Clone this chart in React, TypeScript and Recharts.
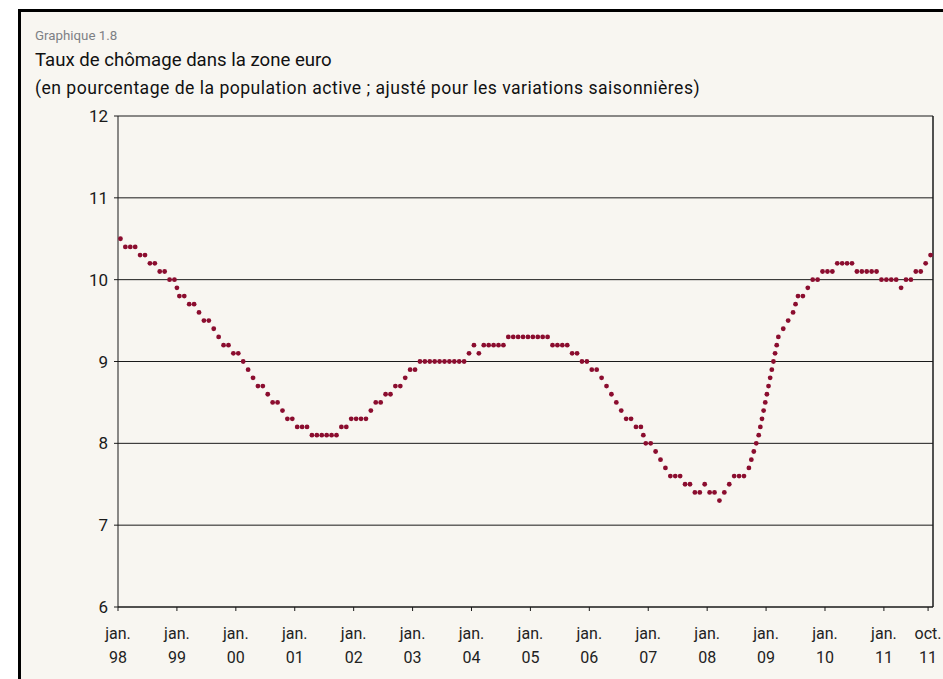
import { LineChart, Line, XAxis, YAxis, CartesianGrid, ReferenceLine } from "recharts";

// monthly unemployment rate, euro area (% of labour force, s.a.)
const rate1998 = [10.5, 10.4, 10.4, 10.4, 10.3, 10.3, 10.2, 10.2, 10.1, 10.1, 10.0, 10.0];
const rate1999 = [9.8, 9.8, 9.7, 9.7, 9.6, 9.5, 9.5, 9.4, 9.3, 9.2, 9.2, 9.1];
const rate2000 = [9.1, 9.0, 8.9, 8.8, 8.7, 8.7, 8.6, 8.5, 8.5, 8.4, 8.3, 8.3];
const rate2001 = [8.2, 8.2, 8.2, 8.1, 8.1, 8.1, 8.1, 8.1, 8.1, 8.2, 8.2, 8.3];
const rate2002 = [8.3, 8.3, 8.3, 8.4, 8.5, 8.5, 8.6, 8.6, 8.7, 8.7, 8.8, 8.9];
const rate2003 = [8.9, 9.0, 9.0, 9.0, 9.0, 9.0, 9.0, 9.0, 9.0, 9.0, 9.0, 9.1];
const rate2004 = [9.2, 9.1, 9.2, 9.2, 9.2, 9.2, 9.2, 9.3, 9.3, 9.3, 9.3, 9.3];
const rate2005 = [9.3, 9.3, 9.3, 9.3, 9.2, 9.2, 9.2, 9.2, 9.1, 9.1, 9.0, 9.0];
const rate2006 = [8.9, 8.9, 8.8, 8.7, 8.6, 8.5, 8.4, 8.3, 8.3, 8.2, 8.2, 8.0];
const rate2007 = [8.0, 7.9, 7.8, 7.7, 7.6, 7.6, 7.6, 7.5, 7.5, 7.4, 7.4, 7.5];
const rate2008 = [7.4, 7.4, 7.3, 7.4, 7.5, 7.6, 7.6, 7.6, 7.7, 7.9, 8.1, 8.4];
const rate2009 = [8.7, 9.0, 9.3, 9.4, 9.5, 9.6, 9.8, 9.8, 9.9, 10.0, 10.0, 10.1];
const rate2010 = [10.1, 10.1, 10.2, 10.2, 10.2, 10.2, 10.1, 10.1, 10.1, 10.1, 10.1, 10.0];
const rate2011 = [10.0, 10.0, 10.0, 9.9, 10.0, 10.0, 10.1, 10.1, 10.2, 10.3];

// x ticks: months counted from jan. 98
const tickPositions = [0, 12, 24, 36, 48, 60, 72, 84, 96, 108, 120, 132, 144, 156, 165];
const tickMonthNames = ["jan.", "jan.", "jan.", "jan.", "jan.", "jan.", "jan.", "jan.", "jan.", "jan.", "jan.", "jan.", "jan.", "jan.", "oct."];
const tickYears = ["98", "99", "00", "01", "02", "03", "04", "05", "06", "07", "08", "09", "10", "11", "11"];
const yTicks = [6, 7, 8, 9, 10, 11, 12];

const rates = [
  ...rate1998, ...rate1999, ...rate2000, ...rate2001, ...rate2002, ...rate2003, ...rate2004,
  ...rate2005, ...rate2006, ...rate2007, ...rate2008, ...rate2009, ...rate2010, ...rate2011,
];
// each point sits in the middle of its month
const data = rates.map((rate, i) => ({ month: i + 0.5, rate }));

const FONT = "Roboto, 'DejaVu Sans', sans-serif";
const DOT_COLOR = "#8b0d2f";

// dotted line style of the original: a dot on every monthly value, and one dot
// on each 0.1 step the line passes between two months when it jumps more than that
function LevelDots(props: any) {
  const { cx, cy, index, points, value } = props;
  if (cx == null || cy == null) return <g key={`d-${index}`} />;
  const dots = [<circle key='m' cx={cx} cy={cy} r={2.4} fill={DOT_COLOR} />];
  const prev = points && index > 0 ? points[index - 1] : null;
  if (prev && prev.value != null) {
    const steps = Math.round(Math.abs(value - prev.value) * 10);
    for (let k = 1; k < steps; k++) {
      const t = k / steps;
      dots.push(
        <circle key={k} cx={prev.x + (cx - prev.x) * t} cy={prev.y + (cy - prev.y) * t} r={2.4} fill={DOT_COLOR} />
      );
    }
  }
  return <g key={`d-${index}`}>{dots}</g>;
}

function MonthTick(props: any) {
  const { x, y, payload } = props;
  const i = tickPositions.indexOf(payload.value);
  return (
    <text x={x} y={y} textAnchor='middle' fontSize={16} fill='#222' fontFamily={FONT}>
      <tspan x={x} dy={26}>{tickMonthNames[i]}</tspan>
      <tspan x={x} dy={24}>{tickYears[i]}</tspan>
    </text>
  );
}

export default function App() {
  return (
    <div style={{ position: "fixed", left: 0, top: 0, width: 943, height: 679, overflow: "hidden", background: "#fff" }}>
      <div
        style={{
          position: "absolute",
          left: 18,
          top: 9,
          width: 1000,
          height: 720,
          border: "3px solid #000",
          background: "#f8f6f1",
        }}
      />
      <svg width={943} height={120} style={{ position: "absolute", left: 0, top: 0 }}>
        <text x={35} y={40} fontSize={13.3} fill='#7d8085' fontFamily={FONT}>Graphique 1.8</text>
        <text x={35} y={66} fontSize={18.6} fill='#111' fontFamily={FONT}>Taux de chômage dans la zone euro</text>
        <text x={35} y={94} fontSize={17.6} letterSpacing={0.48} fill='#111' fontFamily={FONT}>
          (en pourcentage de la population active ; ajusté pour les variations saisonnières)
        </text>
      </svg>
      <div style={{ position: "absolute", left: 0, top: 0 }}>
        <LineChart width={960} height={679} data={data} margin={{ top: 116, right: 27, bottom: 12, left: 0 }}>
          <CartesianGrid horizontal vertical={false} stroke='#1a1a1a' strokeWidth={1} />
          <XAxis
            type='number'
            dataKey='month'
            domain={[0, 166]}
            ticks={tickPositions}
            interval={0}
            tickSize={4}
            height={60}
            axisLine={{ stroke: "#1a1a1a" }}
            tickLine={{ stroke: "#1a1a1a" }}
            tick={<MonthTick />}
          />
          <YAxis
            domain={[6, 12]}
            ticks={yTicks}
            interval={0}
            width={118}
            tickSize={4}
            tickMargin={6}
            axisLine={{ stroke: "#1a1a1a" }}
            tickLine={{ stroke: "#1a1a1a" }}
            tick={{ fontSize: 17, fill: "#1a1a1a", fontFamily: FONT }}
          />
          <ReferenceLine x={166} stroke='#1a1a1a' strokeWidth={1.5} />
          <Line
            type='linear'
            dataKey='rate'
            stroke='none'
            strokeWidth={0}
            dot={(p: any) => <LevelDots key={`d-${p.index}`} {...p} />}
            activeDot={false}
            isAnimationActive={false}
          />
        </LineChart>
      </div>
    </div>
  );
}
